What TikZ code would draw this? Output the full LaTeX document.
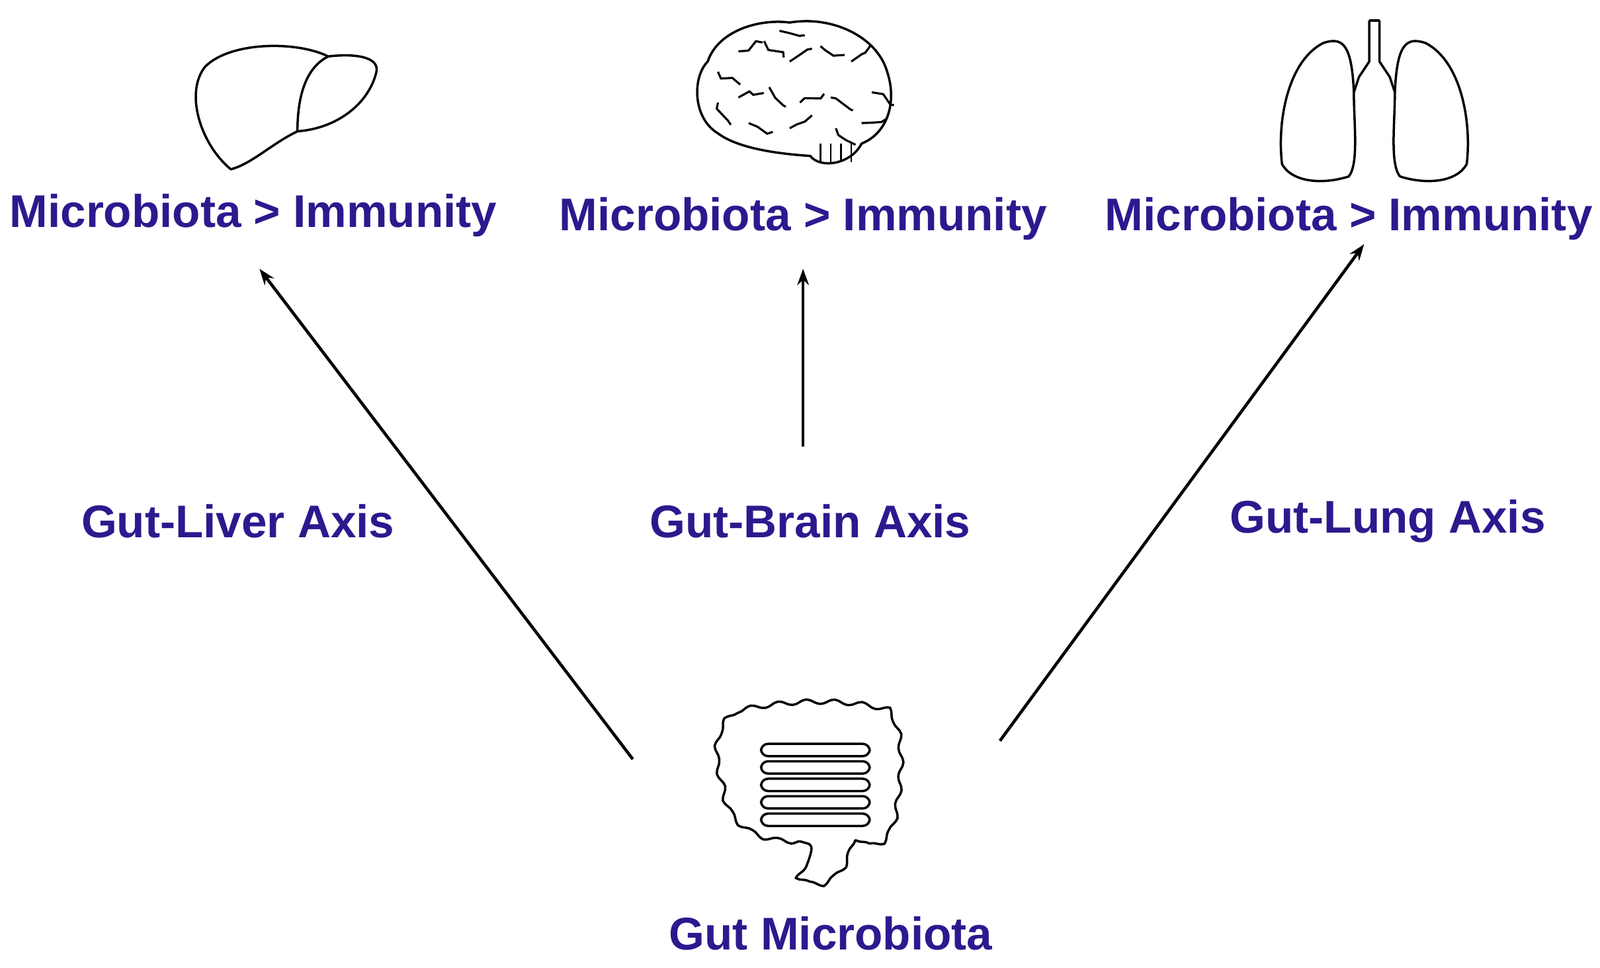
\documentclass[tikz,border=0pt]{standalone}
\usepackage{fontspec}
\setmainfont{Liberation Sans}
\usetikzlibrary{arrows.meta,decorations.pathmorphing}
\definecolor{navy}{HTML}{2B1A8E}
\begin{document}
\begin{tikzpicture}[x=0.01551cm,y=-0.01551cm,
  lbl/.style={text=navy,font=\fontsize{19.7}{22}\selectfont\bfseries},
  ar/.style={line width=1.3pt,-{Stealth[length=7pt,width=5pt]}},
  org/.style={line width=1pt,line join=round}]
\useasboundingbox (0,0) rectangle (1560,943);
% text nodes
\node[lbl] (m1) at (247,210) {Microbiota > Immunity};
\node[lbl] (m2) at (783,213) {Microbiota > Immunity};
\node[lbl] (m3) at (1315,213) {Microbiota > Immunity};
\node[lbl] (a1) at (232,508) {Gut-Liver Axis};
\node[lbl] (a2) at (790,508) {Gut-Brain Axis};
\node[lbl] (a3) at (1353,508) {Gut-Lung Axis};
\node[lbl] (g) at (810,910) {Gut Microbiota};
\coordinate (s1) at (617,740); \coordinate (t1) at (253,262);
\coordinate (s2) at (783,435); \coordinate (t2) at (783,262);
\coordinate (s3) at (975,722); \coordinate (t3) at (1330,238);
\draw[ar] (s1) -- (t1);
\draw[ar] (s2) -- (t2);
\draw[ar] (s3) -- (t3);
% liver
\draw[org] (225,165) .. controls (195,140) and (180,90) .. (200,65)
  .. controls (225,40) and (290,40) .. (320,55)
  .. controls (345,52) and (370,55) .. (367,70)
  .. controls (360,100) and (330,125) .. (290,128)
  .. controls (265,140) and (245,160) .. (225,165) -- cycle;
\draw[org] (320,55) .. controls (300,65) and (290,90) .. (290,128);
% brain
\draw[org] (700,130) .. controls (675,115) and (675,75) .. (690,60)
  .. controls (700,30) and (740,18) .. (770,22)
  .. controls (810,15) and (855,35) .. (865,70)
  .. controls (875,100) and (865,130) .. (840,140)
  .. controls (830,160) and (800,165) .. (790,152)
  .. controls (760,150) and (720,145) .. (700,130) -- cycle;
\foreach \x/\y/\a in {700/70/30,720/50/-20,745/40/40,770/60/-30,800/45/20,830/60/-40,850/90/30,720/95/-10,750/85/50,780/100/-20,810/95/30,840/120/-10,730/120/20,770/125/-30,700/100/60,760/30/10,815/125/40}
  \draw[line width=0.9pt,decorate,decoration={random steps,segment length=4pt,amplitude=2pt}] (\x,\y) -- ++(\a:25);
\foreach \x in {800,810,820,830} \draw[line width=0.7pt] (\x,140) -- (\x,158);
% lungs
\draw[org] (1335,20) -- (1335,60) -- (1325,75) -- (1320,90)
  (1345,20) -- (1345,60) -- (1355,75) -- (1360,90);
\draw[org] (1335,20) -- (1345,20);
\draw[org] (1320,90) .. controls (1320,120) and (1325,160) .. (1315,172)
  .. controls (1290,180) and (1260,178) .. (1250,160)
  .. controls (1245,120) and (1255,60) .. (1290,42)
  .. controls (1310,35) and (1318,45) .. (1320,90);
\draw[org] (1360,90) .. controls (1360,120) and (1355,160) .. (1365,172)
  .. controls (1390,180) and (1420,178) .. (1430,160)
  .. controls (1435,120) and (1425,60) .. (1390,42)
  .. controls (1370,35) and (1362,45) .. (1360,90);
% gut
\draw[org,decorate,decoration={snake,segment length=12pt,amplitude=1pt}]
  (780,820) .. controls (740,820) and (715,800) .. (712,770)
  .. controls (700,740) and (700,700) .. (730,690)
  .. controls (780,680) and (830,680) .. (870,690)
  .. controls (890,710) and (885,760) .. (878,800)
  .. controls (870,830) and (850,830) .. (840,815)
  .. controls (835,845) and (810,865) .. (790,850)
  .. controls (800,840) and (805,830) .. (780,820);
\foreach \y in {725,742,759,776,793}
  \draw[line width=1pt,rounded corners=3pt] (742,\y) rectangle (848,\y+12);
\end{tikzpicture}
\end{document}
